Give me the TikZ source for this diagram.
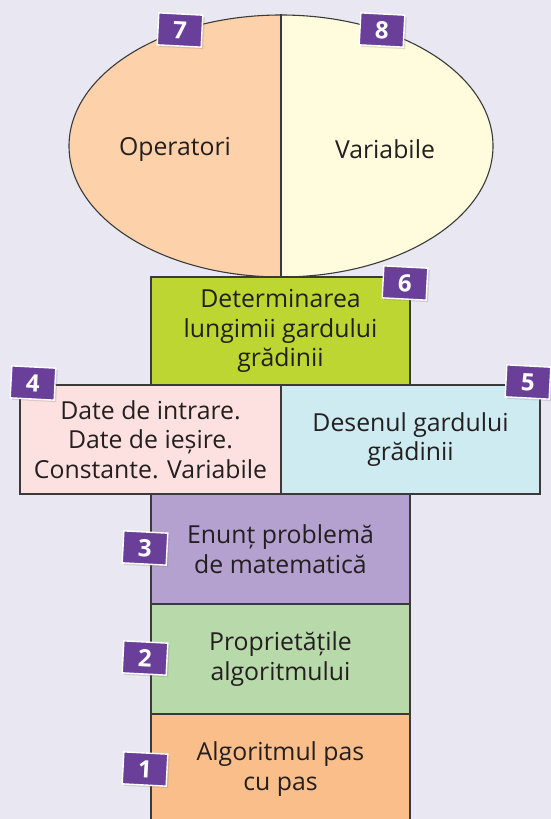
\documentclass[tikz,border=0pt]{standalone}
\usepackage{fontspec}
\setmainfont{Open Sans}
\usetikzlibrary{shadows,shapes.geometric}
\definecolor{bgc}{HTML}{E9E7F2}
\definecolor{opc}{HTML}{FDD1A9}
\definecolor{varc}{HTML}{FFFBDD}
\definecolor{c6}{HTML}{BDD631}
\definecolor{c4}{HTML}{FDE1E0}
\definecolor{c5}{HTML}{CDEBF0}
\definecolor{c3}{HTML}{B4A1CF}
\definecolor{c2}{HTML}{B8D9A9}
\definecolor{c1}{HTML}{FABE8A}
\definecolor{badgec}{HTML}{6A3F99}
\definecolor{txtc}{HTML}{231F20}
\definecolor{linec}{HTML}{3A3A3A}
\tikzset{
  boxst/.style={draw=linec, line width=1.1pt, align=center, text=txtc, font=\fontsize{24.8}{29.5}\selectfont, inner sep=0pt},
  badge/.style={fill=badgec, draw=white, line width=1.4pt, minimum width=44pt, minimum height=32pt, inner sep=0pt, text=white, font=\fontsize{24}{24}\selectfont\bfseries, rotate=-3, drop shadow={opacity=0.25, shadow xshift=2pt, shadow yshift=-2pt}},
  lbl/.style={text=txtc, font=\fontsize{24.8}{29.5}\selectfont}
}
\begin{document}
\begin{tikzpicture}[x=1pt,y=-1pt]
\fill[bgc] (0,0) rectangle (551,819);
\useasboundingbox (0,0) rectangle (551,819);
% ellipse
\begin{scope}
\clip (281,146) ellipse [x radius=212pt, y radius=131pt];
\fill[opc] (60,0) rectangle (281,290);
\fill[varc] (281,0) rectangle (500,290);
\end{scope}
\node[draw=linec, line width=1.1pt, ellipse, minimum width=424pt, minimum height=262pt, inner sep=0pt] (ell) at (281,146) {};
\draw[linec, line width=1.1pt] (ell.north) -- (ell.south);
\node[lbl] (op) at (175,149) {Operatori};
\node[lbl] (var) at (385,149) {Variabile};
% boxes
\node[boxst, fill=c6, minimum width=259pt, minimum height=108pt] (b6) at (280.5,331) {Determinarea\\lungimii gardului\\grădinii};
\node[boxst, fill=c4, minimum width=261pt, minimum height=109pt] (b4) at (150.5,439.5) {Date de intrare.\\Date de ieșire.\\Constante. Variabile};
\node[boxst, fill=c5, minimum width=259pt, minimum height=109pt] (b5) at (410.5,439.5) {Desenul gardului\\grădinii};
\node[boxst, fill=c3, minimum width=259pt, minimum height=110pt] (b3) at (280.5,549) {Enunț problemă\\de matematică};
\node[boxst, fill=c2, minimum width=259pt, minimum height=110pt] (b2) at (280.5,659) {Proprietățile\\algoritmului};
\node[boxst, fill=c1, minimum width=259pt, minimum height=110pt] (b1) at (280.5,769) {Algoritmul pas\\cu pas};
% badges
\node[badge] (n7) at (180,30) {7};
\node[badge] (n8) at (382,30) {8};
\node[badge] (n6) at (405,283) {6};
\node[badge] (n4) at (33,383) {4};
\node[badge] (n5) at (528,382) {5};
\node[badge] (n3) at (145,548) {3};
\node[badge] (n2) at (145,658) {2};
\node[badge] (n1) at (145,769) {1};
\end{tikzpicture}
\end{document}
